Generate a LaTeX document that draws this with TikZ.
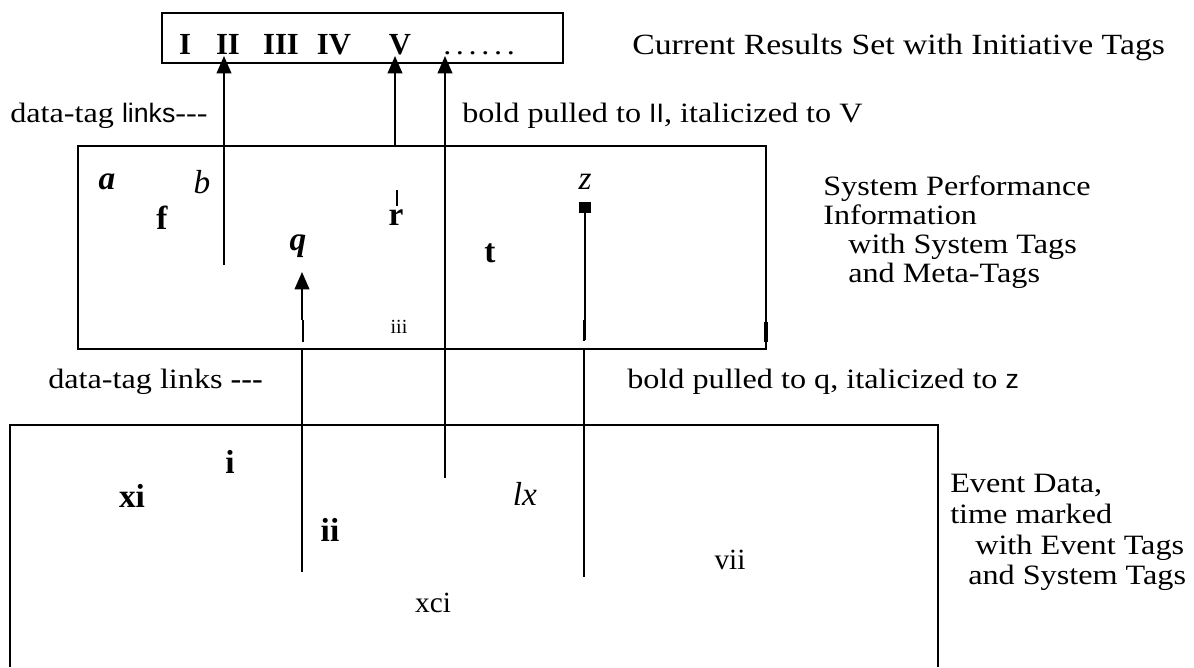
\documentclass[tikz,border=0pt]{standalone}
\usepackage{fontspec}
\setmainfont{Liberation Serif}
\newfontfamily\lblfont{Liberation Serif}[FakeStretch=1.15]
\newfontfamily\sansf{Liberation Sans}
\usetikzlibrary{arrows.meta}
\tikzset{
  lbl/.style={font=\lblfont\fontsize{21}{25}\selectfont, inner sep=0pt, anchor=base west},
  tagl/.style={font=\fontsize{25}{29}\selectfont, inner sep=0pt},
  ln/.style={line width=1.3pt},
  arr/.style={ln, -{Triangle[width=11pt,length=13pt]}},
  boxst/.style={draw, line width=1.3pt, inner sep=0pt}
}
\begin{document}
\begin{tikzpicture}[x=0.75pt,y=-0.75pt]
\useasboundingbox (0,0) rectangle (1194,667);
% boxes
\node[boxst, minimum width=300.75pt, minimum height=37.5pt] (topbox) at (362.5,38) {};
\node[boxst, minimum width=516pt, minimum height=152.25pt] (midbox) at (422,247.5) {};
\coordinate (evbl) at (10,667);
\coordinate (evtl) at (10,425);
\coordinate (evtr) at (938,425);
\coordinate (evbr) at (938,667);
\draw[ln] (evbl) -- (evtl) -- (evtr) -- (evbr);
% top box contents
\node[tagl, font=\fontsize{23}{27}\selectfont\bfseries, anchor=base] (n1) at (185,55) {I};
\node[tagl, font=\fontsize{23}{27}\selectfont\bfseries, anchor=base] (n2) at (228,55) {II};
\node[tagl, font=\fontsize{23}{27}\selectfont\bfseries, anchor=base] (n3) at (281,55) {III};
\node[tagl, font=\fontsize{23}{27}\selectfont\bfseries, anchor=base] (n4) at (334,55) {IV};
\node[tagl, font=\fontsize{23}{27}\selectfont\bfseries, anchor=base] (n5) at (400,55) {V};
\node[lbl] (ndots) at (443,55) {.\,.\,.\,.\,.\,.};
% labels
\node[lbl, font=\lblfont\fontsize{22}{26}\selectfont] (cur) at (632,55) {Current Results Set with Initiative Tags};
\node[lbl] (dtl1) at (10,122) {data-tag {\sansf\fontsize{20}{24}\selectfont links}-{}-{}-};
\node[lbl] (bp1) at (462,122) {bold pulled to {\sansf\fontsize{20}{24}\selectfont II}, italicized to V};
\node[lbl] (sp1) at (823,195) {System Performance};
\node[lbl] (sp2) at (823,224) {Information};
\node[lbl] (sp3) at (848,253) {with System Tags};
\node[lbl] (sp4) at (848,282) {and Meta-Tags};
\node[lbl] (dtl2) at (48,388) {data-tag links \textbf{-{}-{}-}};
\node[lbl] (bp2) at (627,388) {bold pulled to q, italicized to {\sansf\fontsize{20}{24}\selectfont z}};
\node[lbl] (ev1) at (950,492) {Event Data,};
\node[lbl] (ev2) at (950,523) {time marked};
\node[lbl] (ev3) at (975,554) {with Event Tags};
\node[lbl] (ev4) at (968,584) {and System Tags};
% middle box letters
\node[tagl, font=\fontsize{25}{29}\selectfont\bfseries\itshape] (la) at (107,182) {a};
\node[tagl, font=\fontsize{25}{29}\selectfont\itshape] (lb) at (202,182) {b};
\node[tagl, font=\fontsize{25}{29}\selectfont\bfseries] (lf) at (162,218) {f};
\node[tagl, font=\fontsize{25}{29}\selectfont\bfseries] (lr) at (396,218) {r};
\node[tagl, font=\fontsize{25}{29}\selectfont\bfseries\itshape] (lq) at (298,246) {q};
\node[tagl, font=\fontsize{25}{29}\selectfont\bfseries] (lt) at (490,253) {t};
\node[tagl, font=\fontsize{25}{29}\selectfont\itshape] (lz) at (585,182) {z};
\node[tagl, font=\fontsize{15}{18}\selectfont] (liii) at (399,327) {iii};
% event box letters
\node[tagl, font=\fontsize{25}{29}\selectfont\bfseries] (ei) at (230,462) {i};
\node[tagl, font=\fontsize{25}{29}\selectfont\bfseries] (exi) at (132,496) {xi};
\node[tagl, font=\fontsize{25}{29}\selectfont\bfseries] (eii) at (330,530) {ii};
\node[tagl, font=\fontsize{25}{29}\selectfont\itshape] (elx) at (525,494) {lx};
\node[tagl, font=\fontsize{22}{26}\selectfont] (evii) at (730,560) {vii};
\node[tagl, font=\fontsize{22}{26}\selectfont] (exci) at (433,603) {xci};
% connector end points
\coordinate (c1s) at (224,265);  \coordinate (c1e) at (224,56);
\coordinate (c2s) at (395,146);  \coordinate (c2e) at (395,56);
\coordinate (c3s) at (445,478);  \coordinate (c3e) at (445,56);
\coordinate (cqs) at (302,320);  \coordinate (cqe) at (302,272);
\coordinate (cqt1) at (303,320); \coordinate (cqt2) at (303,342);
\coordinate (cql1) at (302,349); \coordinate (cql2) at (302,572);
\coordinate (rt1) at (397,190);  \coordinate (rt2) at (397,206);
\coordinate (zs) at (585,213);   \coordinate (ze) at (585,340);
\coordinate (zl1) at (584,349);  \coordinate (zl2) at (584,577);
\coordinate (zt1) at (584,320);  \coordinate (zt2) at (584,341);
\coordinate (rk1) at (766,322);  \coordinate (rk2) at (766,342);
% connectors
\draw[arr] (cqs) -- (cqe);
\draw[arr] (c1s) -- (c1e);
\draw[arr] (c2s) -- (c2e);
\draw[arr] (c3s) -- (c3e);
\draw[ln] (cqt1) -- (cqt2);
\draw[ln] (cql1) -- (cql2);
\draw[ln] (rt1) -- (rt2);
\fill (579,202) rectangle (591,213);
\draw[line width=2pt] (zs) -- (ze);
\draw[ln] (zl1) -- (zl2);
\draw[ln] (zt1) -- (zt2);
\draw[line width=2.5pt] (rk1) -- (rk2);
\end{tikzpicture}
\end{document}
